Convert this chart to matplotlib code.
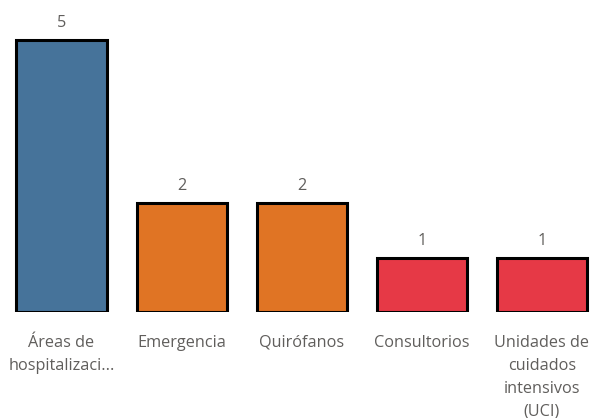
import matplotlib
matplotlib.use("Agg")
import matplotlib.pyplot as plt

categories = ["Áreas de\nhospitalizaci...", "Emergencia", "Quirófanos", "Consultorios",
              "Unidades de\ncuidados\nintensivos\n(UCI)"]
values = [5, 2, 2, 1, 1]
colors = ["#46739A", "#E07424", "#E07424", "#E63946", "#E63946"]

plt.rcParams['font.family'] = ['Open Sans', 'DejaVu Sans']
fig = plt.figure(figsize=(5.94, 4.18), dpi=100)
ax = fig.add_axes([0, 106/418, 1, 312/418])
x = list(range(len(values)))
bars = ax.bar(x, values, width=0.75, color=colors, edgecolor="black", linewidth=2.2)
ax.set_xlim(-0.512, 4.434)
ax.set_ylim(0, 5 * 312 / 272)
for xi, v in zip(x, values):
    ax.annotate(str(v), (xi, v), xytext=(0, 9.4), textcoords="offset points",
                ha="center", va="baseline", fontsize=11.7, color="#605E5C")
for xi, c in zip(x, categories):
    for li, line in enumerate(c.split("\n")):
        ax.annotate(line, (xi, 0), xytext=(0, -25.0 - li * 16.5), textcoords="offset points",
                    ha="center", va="baseline", fontsize=11.7, color="#605E5C",
                    annotation_clip=False)
ax.axis("off")
fig.savefig("out.png", dpi=100)
